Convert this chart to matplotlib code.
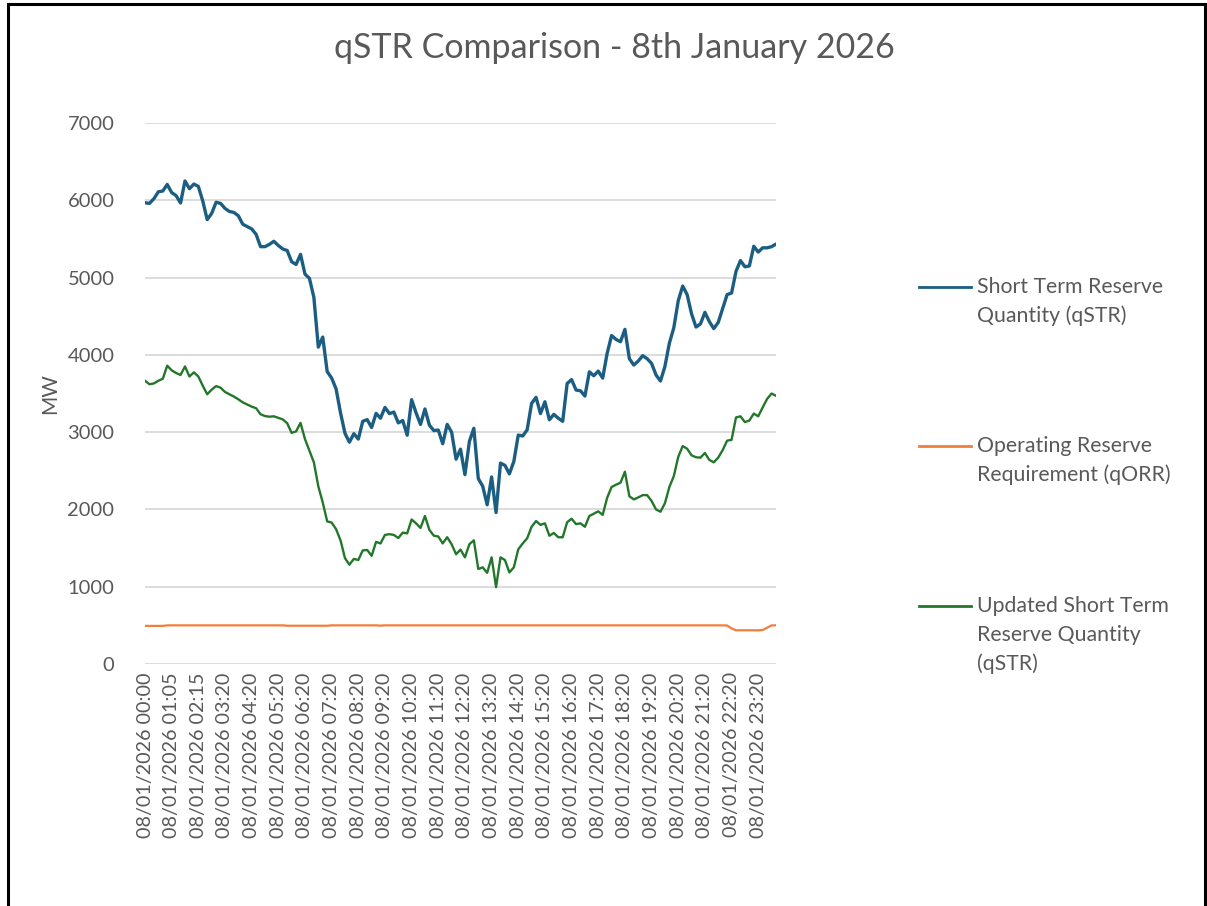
import matplotlib
matplotlib.use("Agg")
import matplotlib.pyplot as plt
from matplotlib.lines import Line2D
from matplotlib.patches import Rectangle
import numpy as np

# 10-minute samples (MW)
str_qty = [
    5968, 5960, 6020, 6110, 6120, 6205, 6100, 6060, 5965, 6250,
    6150, 6210, 6180, 5990, 5750, 5830, 5975, 5960, 5895, 5855,
    5843, 5800, 5690, 5660, 5630, 5560, 5400, 5400, 5430, 5470,
    5415, 5370, 5350, 5205, 5170, 5300, 5045, 4990, 4745, 4100,
    4230, 3783, 3700, 3560, 3250, 2985, 2870, 2980, 2910, 3140,
    3162, 3060, 3243, 3180, 3320, 3240, 3260, 3120, 3150, 2960,
    3420, 3250, 3100, 3300, 3090, 3020, 3027, 2850, 3100, 3000,
    2650, 2780, 2450, 2880, 3050, 2400, 2300, 2060, 2420, 1960,
    2600, 2570, 2460, 2620, 2962, 2950, 3030, 3372, 3450, 3240,
    3393, 3160, 3230, 3180, 3140, 3630, 3680, 3545, 3535, 3467,
    3780, 3730, 3790, 3700, 4020, 4250, 4200, 4170, 4330, 3950,
    3868, 3920, 3990, 3950, 3890, 3740, 3661, 3850, 4150, 4350,
    4700, 4890, 4780, 4530, 4360, 4400, 4550, 4430, 4340, 4420,
    4600, 4780, 4800, 5080, 5220, 5140, 5150, 5405, 5330, 5385,
    5385, 5400, 5433,
]

orr_qty = [
    493, 493, 493, 493, 493, 500, 500, 500, 500, 500,
    500, 500, 500, 500, 500, 500, 500, 500, 500, 500,
    500, 500, 500, 500, 500, 500, 500, 500, 500, 500,
    500, 500, 495, 495, 495, 495, 495, 495, 495, 495,
    495, 495, 500, 500, 500, 500, 500, 500, 500, 500,
    500, 500, 500, 496, 500, 500, 500, 500, 500, 500,
    500, 500, 500, 500, 500, 500, 500, 500, 500, 500,
    500, 500, 500, 500, 500, 500, 500, 500, 500, 500,
    500, 500, 500, 500, 500, 500, 500, 500, 500, 500,
    500, 500, 500, 500, 500, 500, 500, 500, 500, 500,
    500, 500, 500, 500, 500, 500, 500, 500, 500, 500,
    500, 500, 500, 500, 500, 500, 500, 500, 500, 500,
    500, 500, 500, 500, 500, 500, 500, 500, 500, 500,
    500, 498, 460, 436, 436, 436, 436, 436, 436, 440,
    470, 500, 500,
]

updated_str_qty = [
    3665, 3620, 3630, 3665, 3690, 3860, 3800, 3765, 3740, 3850,
    3720, 3773, 3720, 3600, 3490, 3550, 3596, 3575, 3520, 3490,
    3460, 3425, 3385, 3358, 3330, 3310, 3232, 3208, 3200, 3205,
    3185, 3165, 3115, 2990, 3010, 3120, 2910, 2760, 2610, 2300,
    2090, 1845, 1830, 1745, 1600, 1370, 1285, 1360, 1345, 1470,
    1475, 1400, 1580, 1560, 1670, 1680, 1670, 1630, 1700, 1690,
    1870, 1820, 1760, 1915, 1735, 1660, 1650, 1560, 1640, 1550,
    1420, 1480, 1380, 1550, 1600, 1230, 1250, 1180, 1380, 995,
    1380, 1345, 1185, 1250, 1484, 1560, 1626, 1776, 1850, 1800,
    1820, 1660, 1695, 1640, 1640, 1835, 1880, 1810, 1820, 1776,
    1915, 1945, 1975, 1930, 2150, 2290, 2320, 2345, 2488, 2170,
    2130, 2155, 2185, 2185, 2110, 2000, 1970, 2080, 2290, 2430,
    2680, 2820, 2785, 2700, 2675, 2670, 2730, 2640, 2610, 2670,
    2768, 2890, 2900, 3190, 3205, 3130, 3150, 3240, 3205, 3320,
    3430, 3500, 3470,
]

time_labels = [
    "08/01/2026 00:00", "08/01/2026 01:05", "08/01/2026 02:15",
    "08/01/2026 03:20", "08/01/2026 04:20", "08/01/2026 05:20",
    "08/01/2026 06:20", "08/01/2026 07:20", "08/01/2026 08:20",
    "08/01/2026 09:20", "08/01/2026 10:20", "08/01/2026 11:20",
    "08/01/2026 12:20", "08/01/2026 13:20", "08/01/2026 14:20",
    "08/01/2026 15:20", "08/01/2026 16:20", "08/01/2026 17:20",
    "08/01/2026 18:20", "08/01/2026 19:20", "08/01/2026 20:20",
    "08/01/2026 21:20", "08/01/2026 22:20", "08/01/2026 23:20",
]
label_step = 6  # one label every 6 samples

series_labels = [
    "Short Term Reserve\nQuantity (qSTR)",
    "Operating Reserve\nRequirement (qORR)",
    "Updated Short Term\nReserve Quantity\n(qSTR)",
]
series_colors = ["#1B5E82", "#F07F3C", "#23772B"]
series_widths = [2.4, 1.6, 1.7]

TEXT = "#595959"
plt.rcParams["font.family"] = ["Lato", "DejaVu Sans"]

W, H = 1207, 906
fig = plt.figure(figsize=(W / 100, H / 100), dpi=100)
ax = fig.add_axes([145 / W, 1 - 664 / H, (776 - 145) / W, (664 - 123) / H])

x = np.arange(len(str_qty))
for vals, col, lw in zip([str_qty, orr_qty, updated_str_qty], series_colors, series_widths):
    ax.plot(x, vals, color=col, lw=lw, solid_joinstyle="round")

ax.set_xlim(0, len(str_qty) - 1)
ax.set_ylim(0, 7000)
ax.set_yticks(range(0, 7001, 1000))
ax.yaxis.grid(True, color="#d9d9d9", lw=1.3)
ax.set_axisbelow(True)
for s in ax.spines.values():
    s.set_visible(False)

ax.set_xticks(np.arange(len(time_labels)) * label_step)
ax.set_xticklabels(time_labels, rotation=90, fontsize=14.2, color=TEXT)
ax.tick_params(axis="x", length=0, pad=6)
ax.tick_params(axis="y", length=0, pad=22, labelsize=14.5, labelcolor=TEXT)

fig.text(50 / W, 1 - 394 / H, "MW", rotation=90, ha="center", va="center",
         fontsize=15, color=TEXT)
fig.text(614 / W, 1 - 48 / H, "qSTR Comparison - 8th January 2026", ha="center",
         va="center", fontsize=24.5, color=TEXT)

# legend, drawn by hand so the line sits next to the first text row
legend_y = [287, 446, 606]
for lab, col, y0 in zip(series_labels, series_colors, legend_y):
    fig.add_artist(Line2D([919 / W, 971 / W], [1 - y0 / H, 1 - y0 / H],
                          color=col, lw=2.0, transform=fig.transFigure))
    for k, line in enumerate(lab.split("\n")):
        fig.text(977 / W, 1 - (y0 + k * 28.7) / H, line, ha="left", va="center",
                 fontsize=15.3, color=TEXT)

# outer frame (open at the bottom, as in the screenshot)
fig.add_artist(Rectangle((8 / W, -0.05), (1205 - 8) / W, 1.05 - 4 / H,
                         transform=fig.transFigure, fill=False,
                         edgecolor="black", lw=2.2))

fig.savefig("out.png", dpi=100)
